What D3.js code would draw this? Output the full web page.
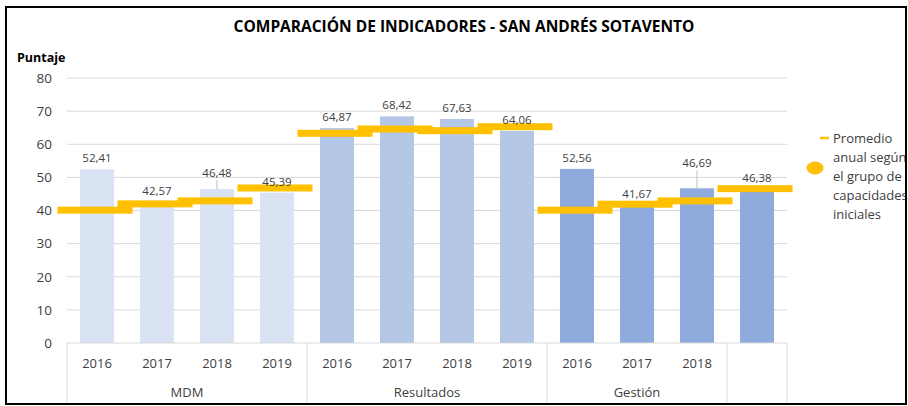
<!DOCTYPE html>
<html>
<head>
<meta charset="utf-8">
<script src="https://cdn.jsdelivr.net/npm/d3@7"></script>
<style>
  body { margin: 0; background: #fff; }
  text { font-family: "Open Sans", "Noto Sans", sans-serif; }
</style>
</head>
<body>
<div id="chart"></div>
<script>
// Chart data
var years = ["2016", "2017", "2018", "2019", "2016", "2017", "2018", "2019", "2016", "2017", "2018", ""];
var groupNames = ["MDM", "Resultados", "Gestión", ""];
var groupSizes = [4, 4, 3, 1];
var scores = [52.41, 42.57, 46.48, 45.39, 64.87, 68.42, 67.63, 64.06, 52.56, 41.67, 46.69, 46.38];
var averages = [40.1, 42.0, 42.9, 46.8, 63.3, 64.6, 64.1, 65.3, 40.1, 41.9, 42.9, 46.6];
var yTicks = [0, 10, 20, 30, 40, 50, 60, 70, 80];
var legendLines = ["Promedio", "anual según", "el grupo de", "capacidades", "iniciales"];

var width = 908, height = 406;
var margin = {top: 78, right: 121, bottom: 63, left: 67};
var groupColors = ["#dae3f3", "#b4c7e7", "#8faadc", "#8faadc"];
var yellow = "#ffc000";

var svg = d3.select("#chart").append("svg")
  .attr("width", width)
  .attr("height", height);

svg.append("rect").attr("width", width).attr("height", height).attr("fill", "#fff");

// scales
var x = d3.scaleBand()
  .domain(d3.range(scores.length))
  .range([margin.left, width - margin.right])
  .paddingInner(0.433)
  .paddingOuter(0.2165);

var y = d3.scaleLinear()
  .domain([0, 80])
  .range([height - margin.bottom, margin.top]);

// which group each bar belongs to
var groupOf = [];
groupSizes.forEach(function(n, g) { for (var k = 0; k < n; k++) groupOf.push(g); });

// gridlines
svg.append("g")
  .selectAll("line")
  .data(yTicks.slice(1))
  .join("line")
  .attr("x1", margin.left)
  .attr("x2", width - margin.right)
  .attr("y1", function(d) { return y(d); })
  .attr("y2", function(d) { return y(d); })
  .attr("stroke", "#d9d9d9")
  .attr("stroke-width", 1);

// y axis labels
var yAxis = svg.append("g")
  .attr("transform", "translate(" + margin.left + ",0)")
  .call(d3.axisLeft(y).tickValues(yTicks).tickSize(0).tickPadding(15));
yAxis.select(".domain").remove();
yAxis.selectAll("text")
  .attr("font-size", "13.5px")
  .attr("fill", "#404040")
  .style("font-family", "'Open Sans', sans-serif");

// bars
svg.append("g")
  .selectAll("rect")
  .data(scores)
  .join("rect")
  .attr("x", function(d, i) { return x(i); })
  .attr("y", function(d) { return y(d); })
  .attr("width", x.bandwidth())
  .attr("height", function(d) { return y(0) - y(d); })
  .attr("fill", function(d, i) { return groupColors[groupOf[i]]; });

// average markers (wide dashes)
var dashW = 75, dashH = 7;
svg.append("g")
  .selectAll("rect")
  .data(averages)
  .join("rect")
  .attr("x", function(d, i) { return x(i) + x.bandwidth() / 2 - dashW / 2 - 2; })
  .attr("y", function(d) { return y(d) - dashH / 2; })
  .attr("width", dashW)
  .attr("height", dashH)
  .attr("fill", yellow);

// data labels, two of them are pushed up with a leader line
var lifted = {2: 16, 10: 25};
var labels = svg.append("g");
scores.forEach(function(v, i) {
  var cx = x(i) + x.bandwidth() / 2;
  var top = y(v);
  var up = lifted[i] || 11;
  if (lifted[i]) {
    labels.append("line")
      .attr("x1", cx).attr("x2", cx)
      .attr("y1", top - up + 7).attr("y2", top)
      .attr("stroke", "#bfbfbf").attr("stroke-width", 1);
  }
  labels.append("text")
    .attr("x", cx)
    .attr("y", top - up)
    .attr("dy", "0.35em")
    .attr("text-anchor", "middle")
    .attr("font-size", "11.5px")
    .attr("fill", "#404040")
    .text(d3.format(".2f")(v).replace(".", ","));
});

// category axis (two levels)
var axisY = y(0);
var axisG = svg.append("g");
axisG.append("line")
  .attr("x1", margin.left).attr("x2", width - margin.right)
  .attr("y1", axisY).attr("y2", axisY)
  .attr("stroke", "#d9d9d9");

var bounds = [0];
groupSizes.forEach(function(n) { bounds.push(bounds[bounds.length - 1] + n); });
var step = x.step();
var edge = function(k) { return margin.left + k * step; };

axisG.selectAll("line.sep")
  .data(bounds)
  .join("line")
  .attr("class", "sep")
  .attr("x1", function(k) { return edge(k); })
  .attr("x2", function(k) { return edge(k); })
  .attr("y1", axisY)
  .attr("y2", height - 2)
  .attr("stroke", "#d9d9d9");

axisG.selectAll("text.year")
  .data(years)
  .join("text")
  .attr("class", "year")
  .attr("x", function(d, i) { return x(i) + x.bandwidth() / 2; })
  .attr("y", axisY + 25)
  .attr("text-anchor", "middle")
  .attr("font-size", "13px")
  .attr("fill", "#404040")
  .text(function(d) { return d; });

axisG.selectAll("text.group")
  .data(groupNames)
  .join("text")
  .attr("class", "group")
  .attr("x", function(d, g) { return (edge(bounds[g]) + edge(bounds[g + 1])) / 2; })
  .attr("y", axisY + 54)
  .attr("text-anchor", "middle")
  .attr("font-size", "13px")
  .attr("fill", "#404040")
  .text(function(d) { return d; });

// title and axis name
svg.append("text")
  .attr("x", 464)
  .attr("y", 32)
  .attr("text-anchor", "middle")
  .attr("font-size", "15.5px")
  .attr("font-weight", "bold")
  .attr("fill", "#000")
  .text("COMPARACIÓN DE INDICADORES - SAN ANDRÉS SOTAVENTO");

svg.append("text")
  .attr("x", 17)
  .attr("y", 62)
  .attr("font-size", "12.5px")
  .attr("font-weight", "bold")
  .attr("fill", "#000")
  .text("Puntaje");

// legend
var legend = svg.append("g");
legend.append("line")
  .attr("x1", 820).attr("x2", 829)
  .attr("y1", 138).attr("y2", 138)
  .attr("stroke", yellow).attr("stroke-width", 2.5);
legend.append("ellipse")
  .attr("cx", 815).attr("cy", 168)
  .attr("rx", 8.5).attr("ry", 6.5)
  .attr("fill", yellow);
legend.selectAll("text")
  .data(legendLines)
  .join("text")
  .attr("x", 833)
  .attr("y", function(d, i) { return 138 + i * 19; })
  .attr("dy", "0.35em")
  .attr("font-size", "13px")
  .attr("fill", "#404040")
  .text(function(d) { return d; });

// outer frame
svg.append("rect")
  .attr("x", 6).attr("y", 7)
  .attr("width", 900).attr("height", 397)
  .attr("fill", "none")
  .attr("stroke", "#000")
  .attr("stroke-width", 2);
</script>
</body>
</html>
